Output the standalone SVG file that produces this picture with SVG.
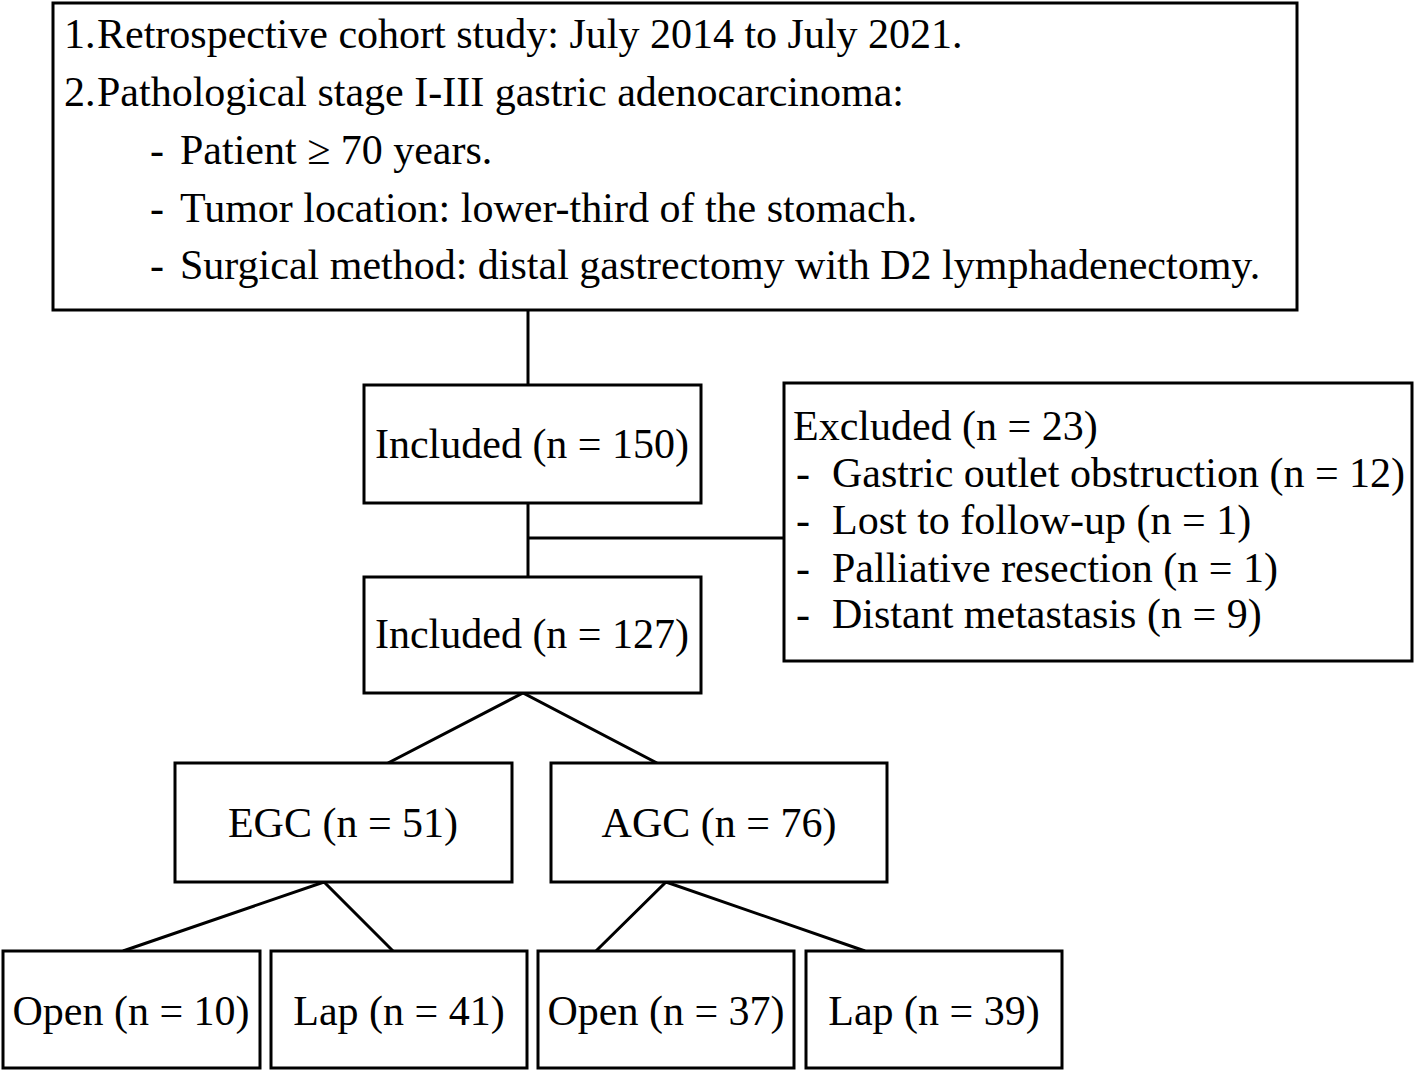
<svg xmlns="http://www.w3.org/2000/svg" width="1416" height="1072" viewBox="0 0 1416 1072">
<style>
.box{fill:#fff;stroke:#000;stroke-width:3}
.ln{fill:none;stroke:#000;stroke-width:3}
text{font-family:"Liberation Serif","Times New Roman",serif;font-size:42px;fill:#000}
.c{text-anchor:middle}
</style>
<rect width="1416" height="1072" fill="#fff"/>
<g id="connectors">
<line class="ln" x1="528" y1="310" x2="528" y2="385"/>
<line class="ln" x1="528" y1="503" x2="528" y2="577"/>
<line class="ln" x1="528" y1="538" x2="784" y2="538"/>
<polyline class="ln" points="388,763 523,693 657,763"/>
<polyline class="ln" points="123,951 324,882 393,951"/>
<polyline class="ln" points="596,951 666,882 865,951"/>
</g>
<g id="criteria">
<rect class="box" x="53" y="3" width="1244" height="307"/>
<text x="64" y="48">1.</text><text x="97" y="48">Retrospective cohort study: July 2014 to July 2021.</text>
<text x="64" y="106">2.</text><text x="97" y="106">Pathological stage I-III gastric adenocarcinoma:</text>
<text x="150" y="164">-</text><text x="180" y="164">Patient ≥ 70 years.</text>
<text x="150" y="222">-</text><text x="180" y="222">Tumor location: lower-third of the stomach.</text>
<text x="150" y="279">-</text><text x="180" y="279">Surgical method: distal gastrectomy with D2 lymphadenectomy.</text>
</g>
<g id="included150">
<rect class="box" x="364" y="385" width="337" height="118"/>
<text class="c" x="532" y="458">Included (n = 150)</text>
</g>
<g id="excluded">
<rect class="box" x="784" y="383" width="628" height="278"/>
<text x="793" y="440">Excluded (n = 23)</text>
<text x="796" y="487">-</text><text x="832" y="487">Gastric outlet obstruction (n = 12)</text>
<text x="796" y="534">-</text><text x="832" y="534">Lost to follow-up (n = 1)</text>
<text x="796" y="582">-</text><text x="832" y="582">Palliative resection (n = 1)</text>
<text x="796" y="628">-</text><text x="832" y="628">Distant metastasis (n = 9)</text>
</g>
<g id="included127">
<rect class="box" x="364" y="577" width="337" height="116"/>
<text class="c" x="532" y="648">Included (n = 127)</text>
</g>
<g id="egc">
<rect class="box" x="175" y="763" width="337" height="119"/>
<text class="c" x="343" y="837">EGC (n = 51)</text>
</g>
<g id="agc">
<rect class="box" x="551" y="763" width="336" height="119"/>
<text class="c" x="719" y="837">AGC (n = 76)</text>
</g>
<g id="open10">
<rect class="box" x="3" y="951" width="257" height="117"/>
<text class="c" x="131" y="1025">Open (n = 10)</text>
</g>
<g id="lap41">
<rect class="box" x="271" y="951" width="256" height="117"/>
<text class="c" x="399" y="1025">Lap (n = 41)</text>
</g>
<g id="open37">
<rect class="box" x="538" y="951" width="256" height="117"/>
<text class="c" x="666" y="1025">Open (n = 37)</text>
</g>
<g id="lap39">
<rect class="box" x="806" y="951" width="256" height="117"/>
<text class="c" x="934" y="1025">Lap (n = 39)</text>
</g>
</svg>
